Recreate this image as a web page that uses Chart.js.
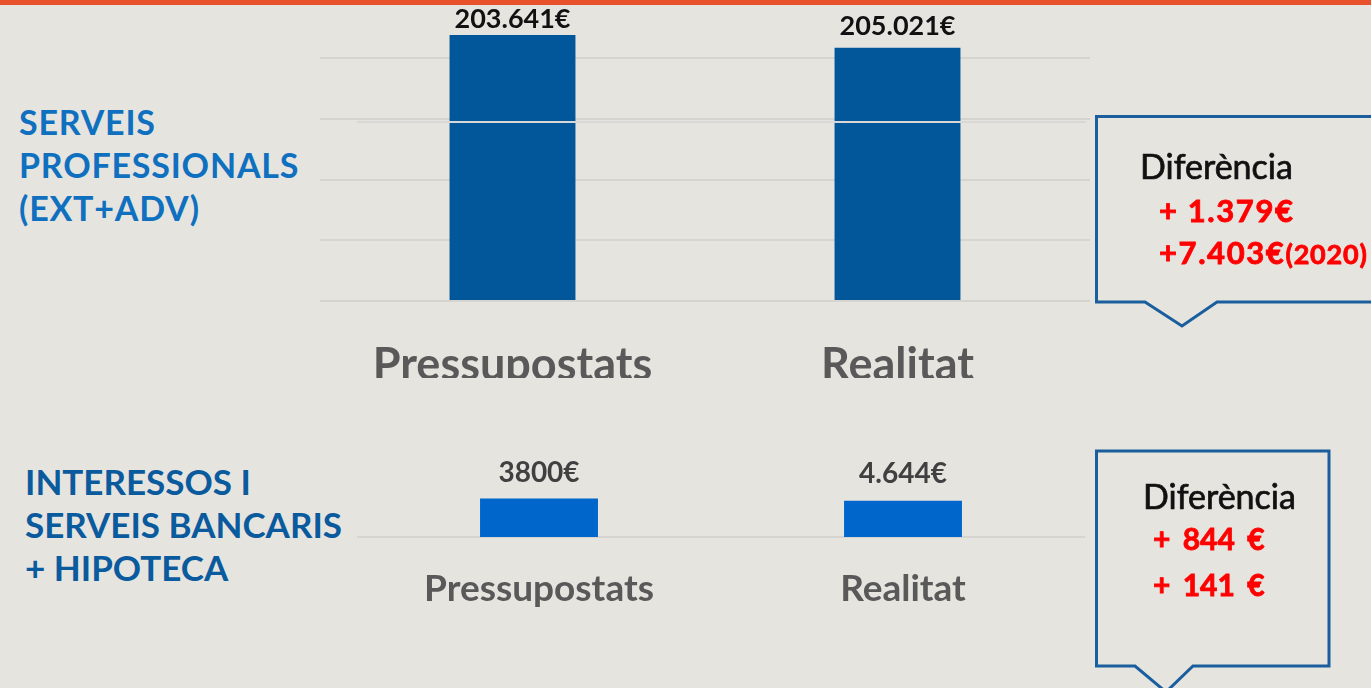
<!DOCTYPE html>
<html>
<head>
<meta charset="utf-8">
<script src="https://cdn.jsdelivr.net/npm/chart.js@4.4.1/dist/chart.umd.min.js"></script>
<style>
  html, body { margin: 0; padding: 0; }
  body { width: 1371px; height: 688px; overflow: hidden; position: relative; background: #e6e4df; font-family: Lato, "Open Sans", sans-serif; }
  .topbar { position: absolute; left: 0; top: 0; width: 1371px; height: 5px; background: #e8512a; }
  .wrap { position: absolute; }
  #top-wrap { left: 320px; top: 0; width: 770px; height: 378px; }
  #bot-wrap { left: 357px; top: 440px; width: 728px; height: 170px; }
  .stray { position: absolute; left: 357px; top: 121px; width: 729px; height: 2px; background: #d9d8d6; z-index: 2; }
  .side { position: absolute; font-weight: 700; line-height: 43px; white-space: nowrap; }
  #side-top { left: 19px; top: 100px; font-size: 34px; color: #0f70c0; letter-spacing: 0.8px; }
  #side-bot { left: 25px; top: 460px; font-size: 35px; color: #0a5a9e; }
  svg { position: absolute; left: 0; top: 0; }
  .t { position: absolute; white-space: pre; line-height: 1; }
  .dif { font-size: 34px; color: #111; -webkit-text-stroke: 0.7px #111; }
  .red { font-size: 31px; font-weight: 700; color: #ff0000; letter-spacing: 1.6px; -webkit-text-stroke: 0.8px #ff0000; }
  .red small { font-size: 27px; letter-spacing: 0.8px; }
  .red2 { font-size: 30px; font-weight: 700; color: #ff0000; word-spacing: 5px; -webkit-text-stroke: 0.8px #ff0000; }
</style>
</head>
<body>
<div class="topbar"></div>

<div class="side" id="side-top">SERVEIS<br>PROFESSIONALS<br>(EXT+ADV)</div>
<div class="side" id="side-bot">INTERESSOS I<br>SERVEIS BANCARIS<br>+ HIPOTECA</div>

<div class="wrap" id="top-wrap"><canvas id="chart-serveis" width="770" height="378"></canvas></div>
<div class="stray"></div>
<div class="wrap" id="bot-wrap"><canvas id="chart-bancs" width="728" height="170"></canvas></div>

<svg width="1371" height="688">
  <path d="M1380 116.5 H1096.5 V302 H1145 L1182 326 L1217 302 H1380" fill="none" stroke="#1b5e9e" stroke-width="3"/>
  <path d="M1096.5 451 H1329 V666 H1193 L1166 692 L1135 666 H1096.5 Z" fill="none" stroke="#1b5e9e" stroke-width="3"/>
</svg>

<div class="t dif" style="left:1140px; top:149px;">Diferència</div>
<div class="t red" style="left:1159px; top:195px;">+ 1.379€</div>
<div class="t red" style="left:1159px; top:237px;">+7.403€<small>(2020)</small></div>

<div class="t dif" style="left:1143px; top:479px;">Diferència</div>
<div class="t red2" style="left:1153px; top:523px;">+ 844 €</div>
<div class="t red2" style="left:1153px; top:569px;">+ 141 €</div>

<script>
(function () {
  'use strict';

  // categories + values (bar heights), printed labels as shown
  const categories = ['Pressupostats', 'Realitat'];
  const serveisValues = [218900, 208500];
  const serveisLabels = ['203.641€', '205.021€'];
  const serveisTicks = [0, 50000, 100000, 150000, 200000];
  const bancsValues = [3800, 3580];
  const bancsLabels = ['3800€', '4.644€'];

  const GRID = '#d6d4d0';
  const TICK_GRAY = '#595959';

  // draws the value text above every bar
  const valueLabels = {
    id: 'valueLabels',
    afterDatasetsDraw(chart, args, opts) {
      const ctx = chart.ctx;
      const meta = chart.getDatasetMeta(0);
      ctx.save();
      ctx.font = opts.font;
      ctx.fillStyle = opts.color;
      ctx.textAlign = 'center';
      ctx.textBaseline = 'alphabetic';
      meta.data.forEach((bar, i) => {
        ctx.fillText(opts.labels[i], bar.x, bar.y - opts.offsets[i]);
      });
      ctx.restore();
    }
  };

  new Chart(document.getElementById('chart-serveis'), {
    type: 'bar',
    data: {
      labels: categories,
      datasets: [{ data: serveisValues, backgroundColor: '#02569a', categoryPercentage: 1, barPercentage: 0.327 }],
    },
    options: {
      responsive: false, animation: false,
      layout: { padding: { top: 9.4, left: 0, right: 0, bottom: 0 } },
      plugins: {
        legend: { display: false }, tooltip: { enabled: false },
        valueLabels: { labels: serveisLabels, font: 'bold 27px Lato', color: '#111', offsets: [7, 13] },
      },
      scales: {
        x: {
          grid: { display: false }, border: { display: false },
          ticks: { color: TICK_GRAY, font: { family: 'Lato', size: 45, weight: 'bold' }, padding: 29 },
          afterFit: s => { s.height = 77; },
        },
        y: {
          min: 0, max: 240000,
          ticks: { display: false },
          afterBuildTicks: s => { s.ticks = serveisTicks.map(v => ({ value: v })); },
          grid: { color: GRID, lineWidth: 2, drawTicks: false },
          border: { display: false },
        },
      },
    },
    plugins: [valueLabels],
  });

  new Chart(document.getElementById('chart-bancs'), {
    type: 'bar',
    data: {
      labels: categories,
      datasets: [{ data: bancsValues, backgroundColor: '#0066cc', categoryPercentage: 1, barPercentage: 0.324 }],
    },
    options: {
      responsive: false, animation: false,
      layout: { padding: { top: 20, left: 0, right: 0, bottom: 0 } },
      plugins: {
        legend: { display: false }, tooltip: { enabled: false },
        valueLabels: { labels: bancsLabels, font: 'bold 28px Lato', color: '#404040', offsets: [17, 18] },
      },
      scales: {
        x: {
          grid: { display: false },
          border: { display: true, color: GRID, width: 2 },
          ticks: { color: TICK_GRAY, font: { family: 'Lato', size: 37, weight: 'bold' }, padding: 22 },
          afterFit: s => { s.height = 73; },
        },
        y: { display: false, min: 0, max: 7600 },
      },
    },
    plugins: [valueLabels],
  });
})();
</script>
</body>
</html>
